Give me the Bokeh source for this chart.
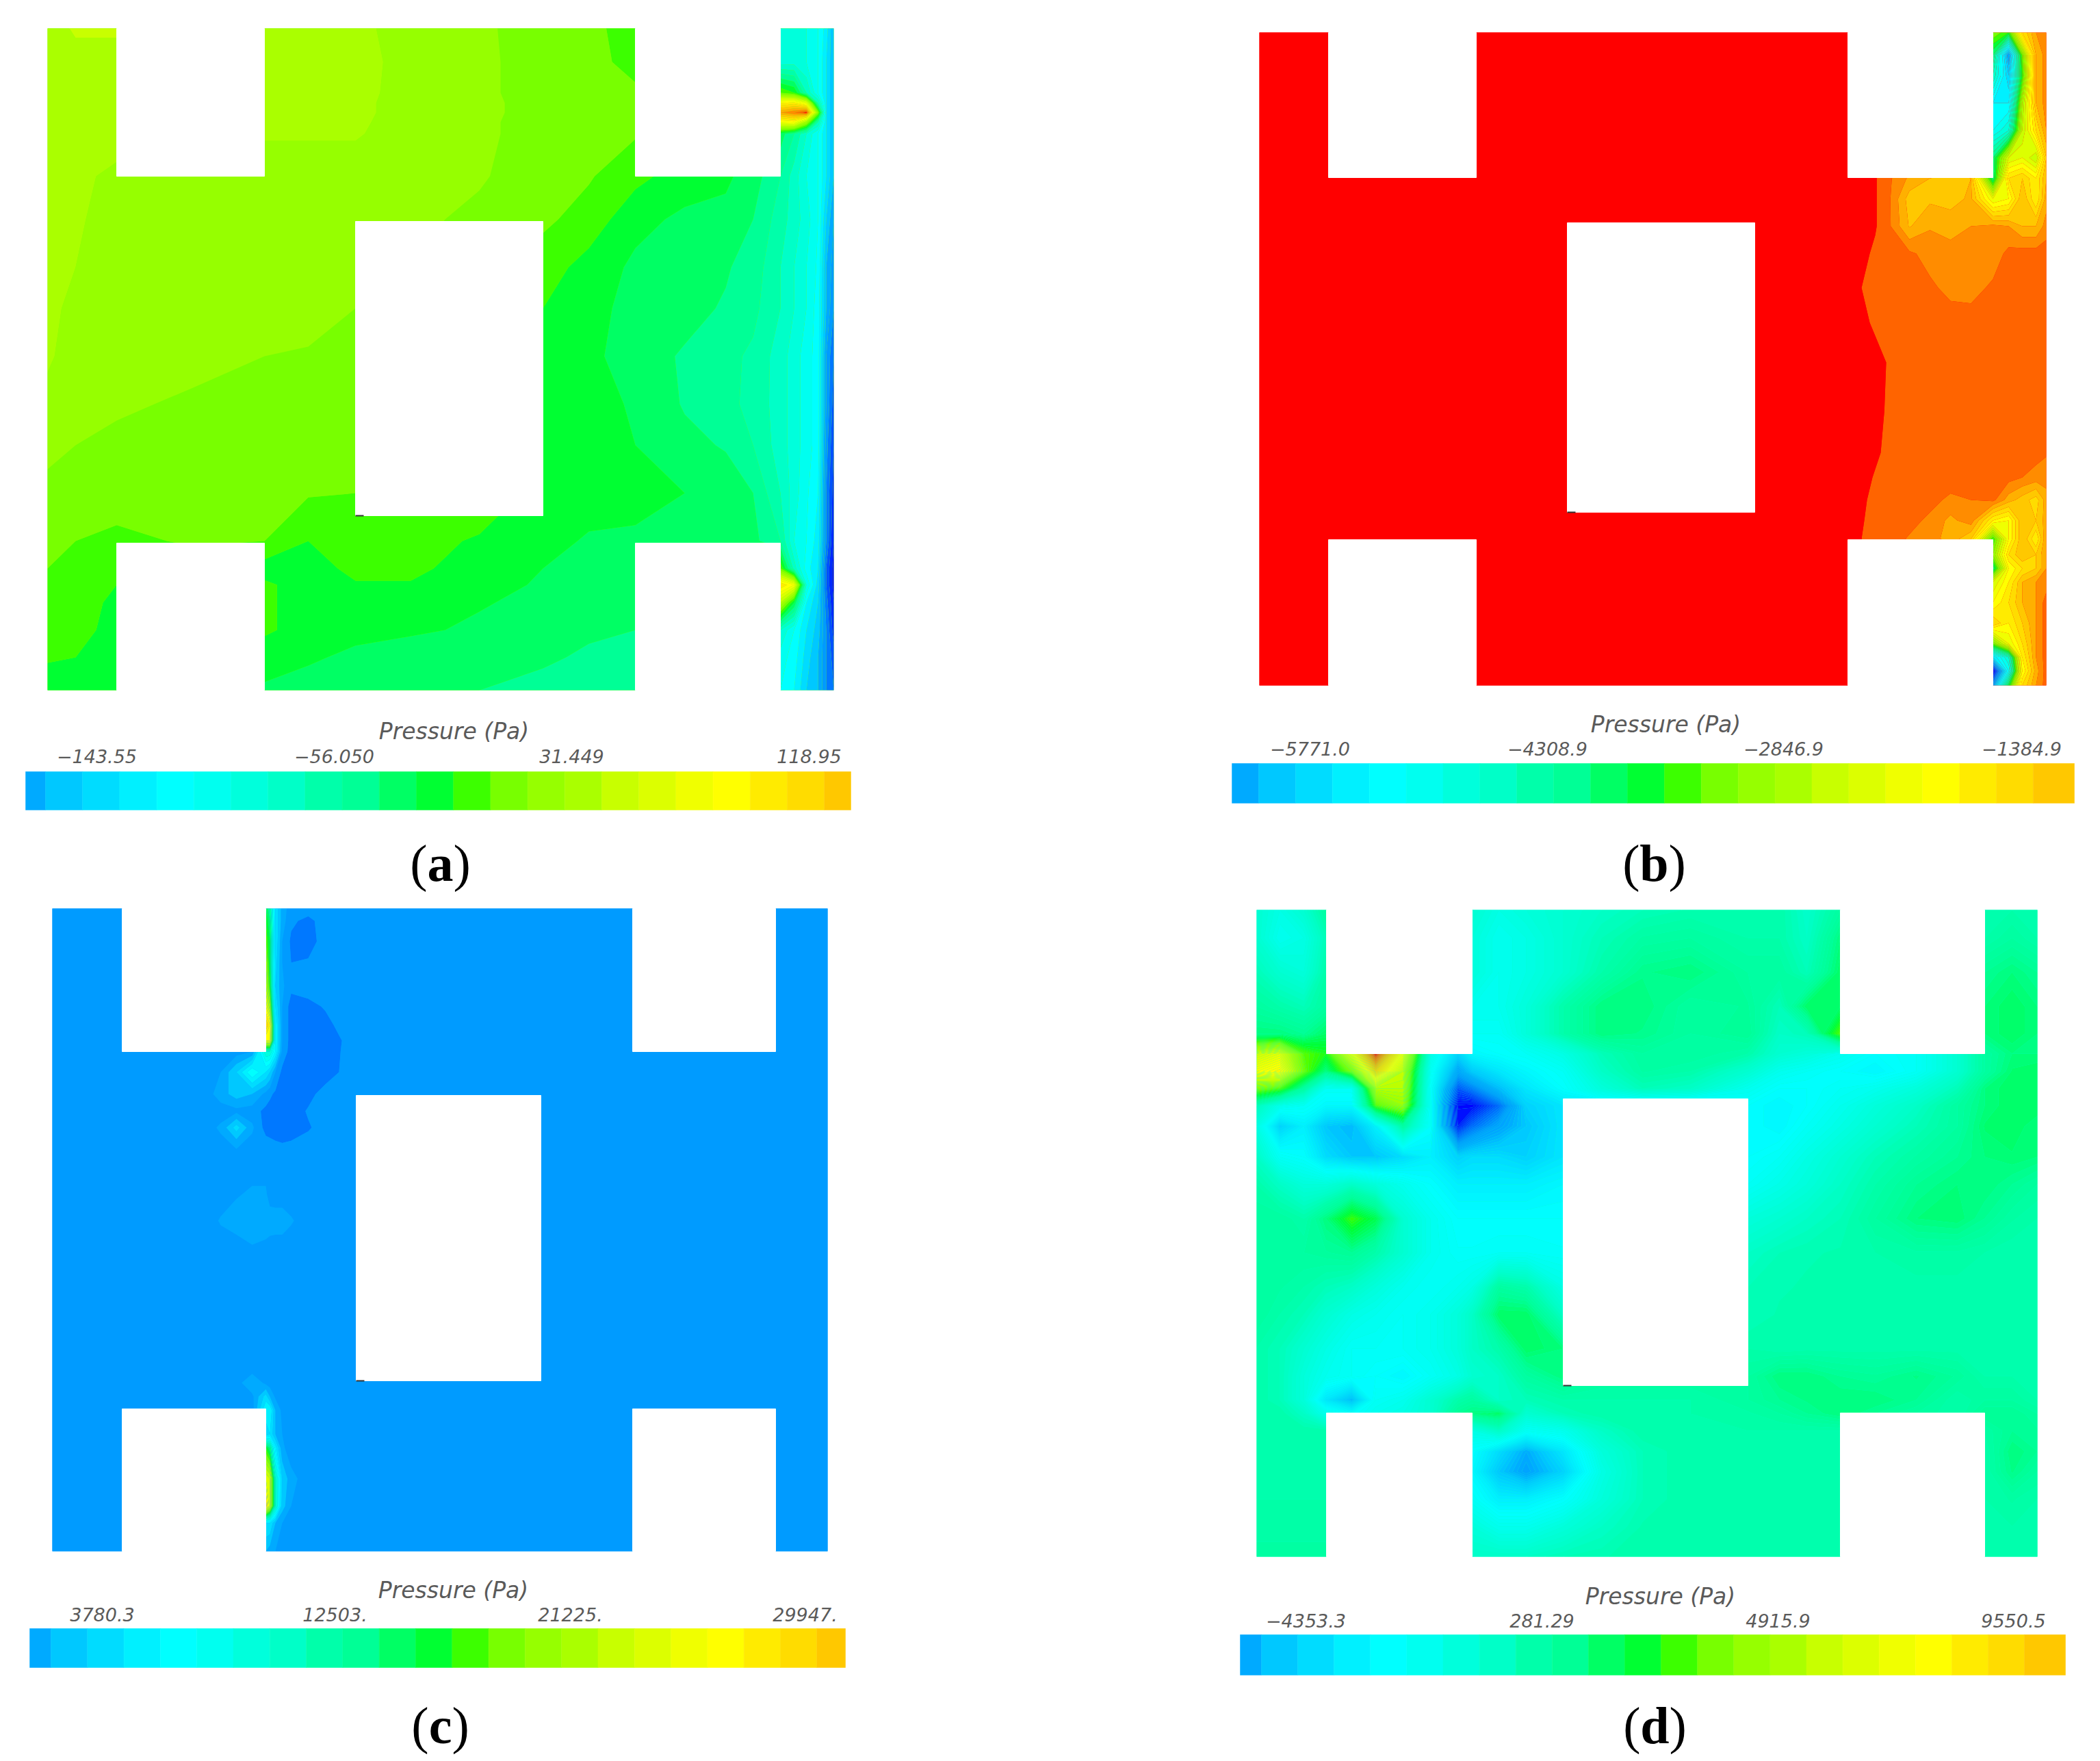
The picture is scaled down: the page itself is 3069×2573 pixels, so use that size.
import numpy as np
from bokeh.plotting import figure
from bokeh.models import Range1d
from bokeh.core.properties import value
from bokeh.embed import file_html
from bokeh.resources import INLINE

# colour scale, one colour per pressure band (index = band number)
band_colors = ["#0000FF","#0028FF","#0050FF","#0078FF","#009BFF","#00AAFF","#00C8FF","#00DCFF","#00F0FF","#00FFFF",
               "#00FFF0","#00FFDC","#00FFC8","#00FFAA","#00FF96","#00FF64","#00FF32","#3CFF00","#78FF00","#96FF00",
               "#AAFF00","#C8FF00","#DCFF00","#F0FF00","#FFFF00","#FFEB00","#FFDC00","#FFC800","#FFB000","#FF8C00",
               "#FF6400","#FF0000"]
bar_first, bar_last = 5, 27

titles = ["Pressure (Pa)"] * 4
tick_a = ["\u2212143.55", "\u221256.050", "31.449", "118.95"]
tick_b = ["\u22125771.0", "\u22124308.9", "\u22122846.9", "\u22121384.9"]
tick_c = ["3780.3", "12503.", "21225.", "29947."]
tick_d = ["\u22124353.3", "281.29", "4915.9", "9550.5"]

# ---- panel (a): band value at grid nodes
xa = [69,110,170,280,386,450,519,600,700,793,860,928,1000,1060,1100,1140,1160,1178,1195,1207,1218]
ya = [41,90,135,150,164,178,195,257,320,390,450,520,590,650,720,790,830,854,880,920,960,1008]
za = [
[20.3,21.2,21.2,20.6,21.0,20.8,20.3,19.5,19.2,18.5,18.3,17.5,16.5,14,12.5,11.5,11.5,11,10,8.5,6],
[20.4,20.5,20.5,20.5,20.9,20.8,20.3,19.7,19.3,18.4,18.2,17.8,16.5,14,12.5,11.5,11.5,11,10,8,6],
[20.4,20.4,20.4,20.4,20.5,20.6,20.4,19.5,19.2,18.6,18.3,18.1,16.5,14.5,14,18,17,13,10,8,6],
[20.4,20.4,20.3,20.3,20.4,20.5,20.3,19.5,19.2,18.7,18.3,18.1,16.5,15,15,25,25.5,23.5,13,8,6],
[20.4,20.3,20.3,20.3,20.3,20.4,20.3,19.5,19.2,18.7,18.3,18.1,16.5,15,15,29,30,31.5,19,8,6],
[20.3,20.3,20.2,20.2,20.2,20.3,20.2,19.5,19.2,18.6,18.3,18.1,16.5,15,15,24,24.5,20,13,8,6],
[20.3,20.2,20.2,20.1,20.1,20.1,20.1,19.5,19.2,18.6,18.3,18.1,16.5,15.5,15,15.5,14,12,10,8,6],
[20.3,20.1,19.9,19.7,19.5,19.5,19.5,19.4,19.1,18.5,18.1,17.3,16.5,16.2,15.5,14,12.5,11,10,8,6],
[20.4,20.1,19.7,19.6,19.6,19.5,19.4,19.2,18.8,18.2,17.6,16.3,15.8,15.7,15,13.5,12.5,11.5,10,7,5],
[20.3,20.0,19.6,19.5,19.5,19.5,19.4,19.0,18.5,17.5,16.6,15.8,15.3,15.1,14.6,13,12,11,9.8,6,4.5],
[20.2,19.8,19.6,19.5,19.5,19.4,19.0,18.8,18.5,17.0,16.4,15.6,15.3,14.9,14.3,13,12,11,9.5,6,4],
[20.1,19.7,19.5,19.4,19.0,18.9,18.6,18.4,18.2,16.8,16.3,15.4,14.9,14.3,13.8,12.5,11.5,10.5,9.5,5,3],
[19.8,19.6,19.2,18.8,18.5,18.4,18.3,18.2,18.0,16.7,16.3,15.9,14.9,14.3,13.7,12.5,11.5,10.5,9.5,5,2.5],
[19.3,19.0,18.7,18.5,18.4,18.4,18.3,18.2,18.0,16.7,16.3,16.0,15.3,14.9,14.0,12.5,11.5,10.5,9.5,4.5,2],
[18.7,18.5,18.4,18.3,18.2,18.1,18.0,17.9,17.6,16.7,16.4,16.2,16.0,15.6,15.0,13,11.5,10.2,9,4,1.5],
[18.2,18.0,17.8,18.1,18.0,17.0,17.3,17.3,16.9,16.3,15.9,15.9,16.0,15.9,15.3,14,11,10,8.5,4,1],
[18.0,17.8,17.4,17.5,16.5,16.5,17.3,17.3,16.4,16.0,15.7,15.3,15.5,15.5,15.0,18,12.5,9.5,8,3,0.5],
[17.6,17.4,17.0,16.9,17.2,16.5,16.9,16.9,16.3,15.9,15.3,15.1,15.3,15.3,15.0,26,24,11,7.5,3,0.5],
[17.4,17.2,16.9,16.9,17.2,16.5,16.5,16.4,16.1,15.7,15.3,15.1,15.2,15.2,14.9,21,16,9,7,3.5,1],
[17.2,17.1,16.9,16.7,17.2,16.5,16.4,16.2,15.8,15.4,15.1,15.0,14.9,14.9,14.8,12,10,8,6.5,4,1.5],
[17.1,17.0,16.8,16.5,16.3,16.2,15.7,15.3,15.2,15.1,14.9,14.9,14.7,14.7,14.7,10.5,9.5,7.5,6,4,2.5],
[16.5,16.2,16.0,15.9,15.9,15.4,15.3,15.2,15.0,14.8,14.6,14.0,13.8,13.5,13.0,10,9,7,6,4,3],
]

# ---- panel (b): R = the red top band of the left and centre part
R = 31.5
xb = [1840,2650,2700,2720,2740,2760,2790,2820,2850,2880,2912,2935,2955,2975,2990]
yb = [47,80,110,150,190,230,260,290,330,370,420,471,529,600,661,697,730,760,787,810,830,850,880,910,940,960,980,1001]
zb_right = [
[R,R,R,R,R,R,R,19,17,26,29,29.5],
[R,R,R,R,R,R,R,15,5,18,28,29.5],
[R,R,R,R,R,R,R,13,7,17,28,29.5],
[R,R,R,R,R,R,R,9,9,20,28,29.5],
[R,R,R,R,R,R,R,10,12,21,26,29],
[R,R,R,R,R,R,R,15,22,23,21,27],
[R,31.1,30.2,28.8,28,27.3,28,15,26,27,25,28],
[R,31.1,30.2,27.5,27.8,27.6,28.2,23,24,28,25,28.5],
[R,31.1,30.2,27.9,28.9,28.6,29.0,29.3,29,28,28,29.5],
[31.3,30.8,30.4,30.2,29.6,29.4,29.4,29.4,30.3,30.5,30.5,30.5],
[31.0,30.5,30.5,30.5,30.2,29.7,29.6,30.2,30.5,30.5,30.5,30.5],
[31.3,30.8,30.5,30.5,30.5,30.5,30.5,30.5,30.5,30.5,30.5,30.5],
[R,31.4,30.9,30.5,30.5,30.5,30.5,30.5,30.5,30.5,30.5,30.5],
[R,31.4,30.8,30.5,30.5,30.5,30.5,30.5,30.5,30.5,30.5,30.5],
[R,31.2,30.7,30.5,30.5,30.5,30.5,30.5,30.5,30.5,30.4,30.1],
[31.4,30.9,30.5,30.5,30.5,30.5,30.5,30.5,30.4,30,29.6,29.5],
[31.2,30.7,30.5,30.5,30.3,29.8,30,30.3,28.5,27.5,26.5,28.5],
[31.1,30.6,30.5,30.3,29.8,28.7,29.6,25,24,28,27,28.5],
[31,30.5,30.4,29.9,29.3,28.7,27,17,24,28,25,29],
[R,R,R,R,R,R,R,19,26,28,27,29],
[R,R,R,R,R,R,R,15,24,26,27,29],
[R,R,R,R,R,R,R,22,25,28,29,29.5],
[R,R,R,R,R,R,R,24,26,28,29,30.5],
[R,R,R,R,R,R,R,27,25,27,29,30.5],
[R,R,R,R,R,R,R,18,23,26,29,30.5],
[R,R,R,R,R,R,R,8,12,25,29,30.5],
[R,R,R,R,R,R,R,0.5,10,24,28.5,30.5],
[R,R,R,R,R,R,R,5,16,26,29,30.5],
]

# ---- panel (c): B = the blue band that fills most of it
B = 4.5
xc = [76,178,300,322,345,368,388,394,402,412,425,450,475,495,520,790,924,1133,1209]
yc = [1327,1345,1375,1406,1440,1470,1497,1520,1536,1566,1598,1623,1647,1674,1700,1745,1783,1824,1900,2000,2020,2040,2060,2095,2115,2160,2200,2225,2266]
zc_mid = [  # columns 322 ... 495
[B,B,B,16,14,8,5.5,B,B,B,B],
[B,B,B,17,15,8,5.5,4.2,3.7,B,B],
[B,B,B,18,16,8,5,3.8,3.6,4.4,B],
[B,B,B,20,16,7.5,5,4,4.1,B,B],
[B,B,B,21,17,7,5.2,4.3,B,B,B],
[B,B,B,24,20,8,5,3.5,3.7,4.1,B],
[B,B,B,27,25,9,5,3.5,3.5,3.7,4.2],
[B,B,B,24,24,9,5,3.5,3.5,3.6,3.9],
[B,B,5,12,12,9,4.7,3.5,3.5,3.6,3.95],
[5,7,10,8,7,5,3.7,3.5,3.5,3.5,4.0],
[5.5,6.5,6,4.7,4.2,3.8,3.5,3.5,3.7,4.4,B],
[B,4.7,B,3.7,3.6,3.5,3.5,3.5,4.1,B,B],
[5.2,7.5,5.2,3.6,3.5,3.5,3.5,3.5,3.9,4.4,B],
[4.6,5.1,4.6,B,4.4,4.2,4.1,4.2,4.4,B,B],
[B,B,B,B,B,B,B,B,B,B,B],
[B,4.9,5.2,5.2,B,B,B,B,B,B,B],
[5.1,5.5,5.6,5.6,5.6,5.5,5.5,5.1,B,B,B],
[B,B,4.9,4.7,B,B,B,B,B,B,B],
[B,B,B,B,B,B,B,B,B,B,B],
[B,B,B,B,B,B,B,B,B,B,B],
[B,B,6,4.7,B,B,B,B,B,B,B],
[B,B,4.7,7.5,6,4.8,B,B,B,B,B],
[B,B,B,9,9,6,4.7,B,B,B,B],
[B,B,B,7,8,6,5,B,B,B,B],
[B,B,B,17,15,8.5,5.2,B,B,B,B],
[B,B,B,23,22,13,7,5.3,B,B,B],
[B,B,B,27,22,13,6.5,5,B,B,B],
[B,B,B,8,8,6,5,B,B,B,B],
[B,B,B,6,5.5,5,B,B,B,B,B],
]

# ---- panel (d): band value at grid nodes
xd = [1836,1870,1905,1937,1975,2010,2050,2090,2130,2151,2190,2230,2284,2340,2400,2470,2554,2600,2640,2689,2740,2800,2860,2900,2940,2977]
yd = [1329,1370,1420,1470,1510,1539,1565,1590,1615,1645,1690,1730,1780,1830,1880,1920,1970,2010,2045,2065,2090,2120,2150,2190,2230,2274]
zd = [
[12,11,12,14,13,13,13,13,13,12,11,11.5,12,12.5,13,13.3,13.5,13.5,12.3,14,13,13,13,13.5,13.5,13.5],
[12,10.5,11,13,13,13,13,13,13,11.5,10.5,11,12,13,13.8,14,13.5,13.5,12.5,15,13,13,13,13.5,14,13.5],
[13,12,11.5,13.5,13,13,13,13,13,11.5,10.5,11,12,13.5,14.7,15,14,14,13,15.5,13,13,13,14.5,15,14.5],
[14,13.5,13,14,13,13,13,13,12,10.5,10.5,11.5,13.5,15,15,14,14.3,13,15.5,15.5,13,13,13,15,15.5,15],
[15,15,14.5,15.5,14,14,13,12,11.5,10,10,11.5,13.5,15,14.7,14,14.5,12.5,13,18,13,13,13,15,15.5,15],
[22,23,18,17,24,31.5,24,11,7,9,9.5,10,11,13,14,14,13.5,12,11.5,10.5,9.5,10,12,14,15,15],
[24,25,18.5,15,19,27,21.5,10,5,6.5,8,9,10,12.5,13.8,13.5,12,10.5,10,9.5,9,10,12,14,15.3,15.5],
[19,18,14,10,10,21,21,9.5,2.5,3.5,6,8,9.5,11.5,13,12.5,10.5,9.5,9.5,10,10.5,11.5,13,15,15.5,15.5],
[13,10.5,10,9,9,18,20,9.5,0.7,0.5,3,7,8,8,8,8,9.5,9,9.5,10.5,11.5,12.5,14,15,15.5,15.5],
[11,7,8.5,6.5,6,8.5,14,9.5,1,3,5,6.5,8,8,8,8,9.5,9,10,11,12,13,14,15.3,15.5,15],
[12.5,10,9.5,7.5,6.5,6.5,7.5,8.5,7,7.5,7.5,7,8,8,8,8,9.5,10,11,12,13,13.8,14.5,15,15.2,15],
[13.5,12.5,11.5,11.5,12.5,11.5,10.5,9.5,8.5,8.5,8.5,8.5,9,9,9,9,10,10.8,11.5,12.5,13.5,14.5,15,15,14.5,14],
[14,14,13.5,15,17.5,16,12,10.5,9.5,9.5,9.5,9.5,9.5,9.5,9.5,9.5,11.5,12,12.5,13,14,15,15.2,14.5,13.8,13.5],
[14,14,14,14.2,14.5,13.5,12,10.5,9.8,9.8,10,10,9.8,9.8,9.8,9.8,12.5,13,13.2,13.3,13.5,13.7,13.7,13.5,13.3,13.3],
[14,13.8,13.5,13,12.5,11.5,10.5,10,10.5,11,14,13.5,11,11,11,11,13,13.2,13.3,13.4,13.4,13.4,13.4,13.4,13.4,13.4],
[14,13.5,13,12,11,10.5,10,10.5,11.5,12.5,15.5,15.5,12.5,12.5,12.5,12.5,13,13.3,13.4,13.4,13.4,13.4,13.4,13.4,13.4,13.4],
[13.5,13,12,11,10,10,10,10.5,11.5,12.5,13.5,15.5,15,15,15,15,13.5,13.3,13.4,13.4,13.4,13.4,13.4,13.4,13.4,13.4],
[13.5,13,11.5,10.5,10,9.5,9,10,11,12,12.5,14,15,14,14,14,14,15,15,14.5,14.3,14.8,14.2,13.5,13.5,13.5],
[13.5,13,11.5,8,6,10,10.5,12,13.5,14,12.5,13,13.5,13.5,13.5,13.5,14,14.5,14.8,15,15,14.5,13.5,14,14,13.5],
[13.5,13.5,12.5,10.5,9.5,10.5,11,12,14.5,15,15.5,12,13,13.5,13.5,13.5,13.7,14,14.5,15,14.5,14,13.5,14.5,14.5,14],
[13.5,13.5,13.5,13.5,12,12,12,12,12,11,12.5,10,10.5,12.5,13.5,13.5,13.5,13.5,13.5,13.5,13.5,13.5,13.5,13.8,14.5,14.3],
[13.5,13.5,13.5,13.5,11,11,11,11,10,9.5,7.5,5.5,8,11.5,13,13.5,13.5,13.5,13.5,13.5,13.5,13.5,13.5,13.5,15,14.5],
[13.5,13.5,13.5,13.5,10,10,10,10,9.5,9,6.5,5,7,11,13,13.5,13.5,13.5,13.5,13.5,13.5,13.5,13.5,13.5,14.8,14],
[13.5,13.5,13.5,13.5,11,11,11,11,10.5,10,8.5,8.5,9.5,11.5,13,13.5,13.5,13.5,13.5,13.5,13.5,13.5,13.5,13.5,13.8,13.5],
[13.7,13.7,13.7,13.7,12,12,12,12,12,11.5,10.5,10.5,11.5,12.5,13.3,13.5,13.5,13.5,13.5,13.5,13.5,13.5,13.5,13.5,13.5,13.5],
[13.8,13.8,13.8,13.8,13,13,13,13,12.7,12.5,12.5,12.5,13,13.2,13.5,13.5,13.5,13.5,13.5,13.5,13.5,13.5,13.5,13.5,13.5,13.5],
]

# geometry of each panel: white openings as (left, right, top, bottom)
open_a = [(170,386,41,257),(928,1140,41,257),(170,386,793,1008),(928,1140,793,1008),(519,793,323,753)]
open_b = [(1941,2157,47,259),(2700,2912,47,259),(1941,2157,788,1001),(2700,2912,788,1001),(2290,2564,325,748)]
open_c = [(178,388,1327,1536),(924,1133,1327,1536),(178,388,2058,2266),(924,1133,2058,2266),(520,790,1600,2017)]
open_d = [(1938,2151,1329,1539),(2689,2900,1329,1539),(1938,2151,2064,2274),(2689,2900,2064,2274),(2284,2554,1605,2024)]

# colour bars: left, first band width, band width, right, top, bottom
bar_a = (37, 29, 54.2, 1243, 1127, 1183)
bar_b = (1800, 39, 53.9, 3031, 1115, 1173)
bar_c = (43, 31, 53.3, 1235, 2379, 2436)
bar_d = (1812, 31, 53.1, 3018, 2388, 2447)

# text anchors
tick_x = {"a": [141,488,835,1182], "b": [1914,2261,2606,2954], "c": [149,489,833,1176], "d": [1908,2253,2598,2942]}
tick_y = {"a": 1104, "b": 1093, "c": 2358, "d": 2367}
title_xy = {"a": (663,1068), "b": (2434,1058), "c": (662,2323), "d": (2426,2332)}
letter_xy = {"a": (643,1260), "b": (2417,1260), "c": (643,2520), "d": (2418,2520)}

p = figure(width=3053, height=2565, x_range=Range1d(0, 3053), y_range=Range1d(2565, 0),
           x_axis_location=None, y_axis_location=None, toolbar_location=None,
           output_backend="svg", min_border=0, outline_line_color=None, background_fill_color="white")
p.grid.visible = False

def hex2rgb(c):
    return np.array([int(c[i:i+2], 16) for i in (1, 3, 5)], float)

n_bands = len(band_colors)
coarse_levels = list(range(n_bands + 1))

# finer colours for the smooth panel (d)
fine_step = 4
fine_levels = [i / fine_step for i in range(n_bands * fine_step + 1)]
stops = np.array([hex2rgb(c) for c in band_colors])
fine_colors = []
for i in range(n_bands * fine_step):
    t = (i + 0.5) / fine_step - 0.5
    j = int(np.clip(np.floor(t), 0, n_bands - 2))
    f = np.clip(t - j, 0, 1)
    r, g, b = stops[j] * (1 - f) + stops[j + 1] * f
    fine_colors.append("#%02X%02X%02X" % (int(r), int(g), int(b)))

def draw_field(x, y, z, levels, colors, base):
    z = np.clip(np.array(z, float), levels[0] + 1e-3, levels[-1] - 1e-3)
    p.quad(left=[x[0]], right=[x[-1]], top=[y[0]], bottom=[y[-1]], fill_color=base, line_color=None)
    p.contour(x, y, z, levels, fill_color=colors, line_color=None)

zb = [[R, R, R] + row for row in zb_right]
zc = [[B, B, B] + row + [B] * 5 for row in zc_mid]

draw_field(xa, ya, za, coarse_levels, band_colors, band_colors[18])
draw_field(xb, yb, zb, coarse_levels, band_colors, band_colors[31])
draw_field(xc, yc, zc, coarse_levels, band_colors, band_colors[4])
draw_field(xd, yd, zd, fine_levels, fine_colors, band_colors[12])

for o in (open_a, open_b, open_c, open_d):
    l, r, t, b = zip(*o)
    p.quad(left=l, right=r, top=t, bottom=b, fill_color="white", line_color="white", line_width=1)
    # small dark tick at the lower left corner of the centre opening
    p.segment(x0=[l[4]], x1=[l[4] + 12], y0=[b[4]], y1=[b[4]], line_color="#333333", line_width=2)

bar_cols = band_colors[bar_first:bar_last + 1]
for (x0, w0, w, x1, t, b) in (bar_a, bar_b, bar_c, bar_d):
    edges = [x0, x0 + w0] + [x0 + w0 + w * (i + 1) for i in range(len(bar_cols) - 2)] + [x1]
    p.quad(left=edges[:-1], right=edges[1:], top=[t] * len(bar_cols), bottom=[b] * len(bar_cols),
           fill_color=bar_cols, line_color=bar_cols, line_width=0.5)

label_gray = "#5A5A5A"
ticks = {"a": tick_a, "b": tick_b, "c": tick_c, "d": tick_d}
for i, k in enumerate("abcd"):
    p.text(x=tick_x[k], y=[tick_y[k]] * 4, text=ticks[k], text_font=value("DejaVu Sans"), text_font_style="italic",
           text_font_size="27px", text_color=label_gray, text_align="center", text_baseline="middle")
    tx, ty = title_xy[k]
    p.text(x=[tx], y=[ty], text=[titles[i]], text_font=value("DejaVu Sans"), text_font_style="italic",
           text_font_size="33px", text_color=label_gray, text_align="center", text_baseline="middle")
    lx, ly = letter_xy[k]
    half = {"a": 19, "b": 21, "c": 17, "d": 21}[k]
    p.text(x=[lx - half], y=[ly], text=["("], text_font=value("Liberation Serif"), text_font_size="76px",
           text_color="black", text_align="right", text_baseline="middle")
    p.text(x=[lx], y=[ly], text=[k], text_font=value("Liberation Serif"), text_font_style="bold", text_font_size="76px",
           text_color="black", text_align="center", text_baseline="middle")
    p.text(x=[lx + half], y=[ly], text=[")"], text_font=value("Liberation Serif"), text_font_size="76px",
           text_color="black", text_align="left", text_baseline="middle")

html = file_html(p, INLINE)
open("out.html", "w").write(html)
